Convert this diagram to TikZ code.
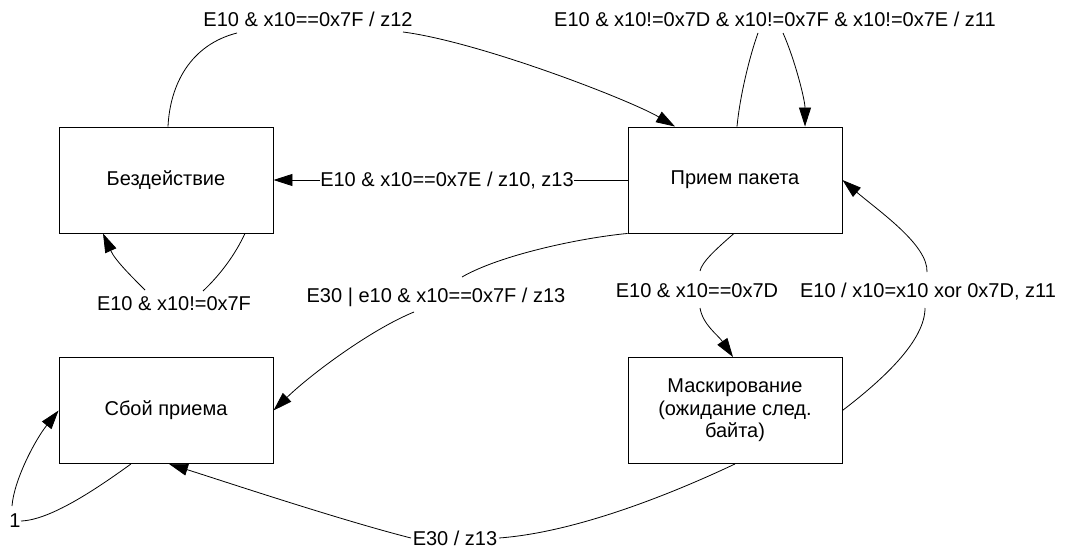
\documentclass[tikz,border=0pt]{standalone}
\usepackage{fontspec}
\setmainfont{Liberation Sans}
\usetikzlibrary{arrows.meta}
\begin{document}
\begin{tikzpicture}[x=1pt,y=-1pt,
  every node/.style={font=\fontsize{20}{22.5}\selectfont},
  state/.style={draw, line width=0.9pt, minimum width=214pt, minimum height=106pt, inner sep=0pt, align=center},
  lbl/.style={inner sep=0pt, anchor=base},
  conn/.style={line width=0.8pt},
  arr/.style={conn, -{Triangle[length=19pt,width=12pt]}}]
\useasboundingbox (0,0) rectangle (1065,548);
% states
\node[state] (idle) at (166,180) {Бездействие};
\node[state] (recv) at (735,180) {Прием пакета};
\node[state] (fail) at (166,410.5) {Сбой приема};
\node[state] (mask) at (735,410.5) {Маскирование\\(ожидание след.\\байта)};
% labels
\node[lbl] (L1) at (308,27) {E10 \& x10==0x7F / z12};
\node[lbl] (L2) at (775,27) {E10 \& x10!=0x7D \& x10!=0x7F \& x10!=0x7E / z11};
\node[lbl] (L3) at (447,187) {E10 \& x10==0x7E / z10, z13};
\node[lbl] (L4) at (174,310) {E10 \& x10!=0x7F};
\node[lbl] (L5) at (436,302) {E30 | e10 \& x10==0x7F / z13};
\node[lbl] (L6) at (697,297) {E10 \& x10==0x7D};
\node[lbl] (L7) at (928,297) {E10 / x10=x10 xor 0x7D, z11};
\node[lbl] (L8) at (455,545) {E30 / z13};
\node[lbl] (L9) at (15,527) {1};
% idle -> recv
\draw[conn] ([xshift=2pt]idle.north) .. controls (170,85) and (190,45) .. ([shift={(-71,6)}]L1.base);
\draw[arr] ([shift={(95,5)}]L1.base) .. controls (480,42) and (630,100) .. ([xshift=-60pt]recv.north);
% recv self loop
\draw[conn] ([xshift=2pt]recv.north) .. controls (740,95) and (750,55) .. ([shift={(-17,6)}]L2.base);
\draw[arr] ([shift={(8,6)}]L2.base) .. controls (795,60) and (805,100) .. ([xshift=70pt]recv.north);
% recv -> idle
\draw[conn] (recv.west) -- (recv.west -| L3.east);
\draw[arr] (L3.west |- idle.east) -- (idle.east);
% idle self loop
\draw[conn] ([xshift=79pt]idle.south) .. controls (235,255) and (220,275) .. ([shift={(29,-19)}]L4.base);
\draw[arr] ([shift={(-29,-20)}]L4.base) .. controls (130,275) and (115,260) .. ([xshift=-63pt]idle.south);
% recv -> fail
\draw[conn] (recv.south west) .. controls (580,238) and (500,255) .. ([shift={(26,-25)}]L5.base);
\draw[arr] ([shift={(-22,10)}]L5.base) .. controls (370,330) and (310,375) .. (fail.east);
% recv -> mask
\draw[conn] ([xshift=-1pt]recv.south) .. controls (715,250) and (702,262) .. ([shift={(3,-26)}]L6.base);
\draw[arr] ([shift={(3,11)}]L6.base) .. controls (703,325) and (718,335) .. ([xshift=-2pt]mask.north);
% mask -> recv
\draw[conn] (mask.east) .. controls (885,378) and (925,340) .. ([shift={(-3,11)}]L7.base);
\draw[arr] ([shift={(-1,-25)}]L7.base) .. controls (928,245) and (880,212) .. (recv.east);
% mask -> fail
\draw[conn] (mask.south) .. controls (680,490) and (580,532) .. ([shift={(44,-7)}]L8.base);
\draw[arr] ([shift={(-44,-7)}]L8.base) .. controls (340,520) and (220,480) .. ([xshift=3pt]fail.south);
% fail self loop
\draw[conn] ([xshift=-35pt]fail.south) .. controls (95,490) and (50,520) .. ([shift={(6,-6)}]L9.base);
\draw[arr] ([shift={(-3,-21)}]L9.base) .. controls (14,480) and (35,440) .. (fail.west);
\end{tikzpicture}
\end{document}
